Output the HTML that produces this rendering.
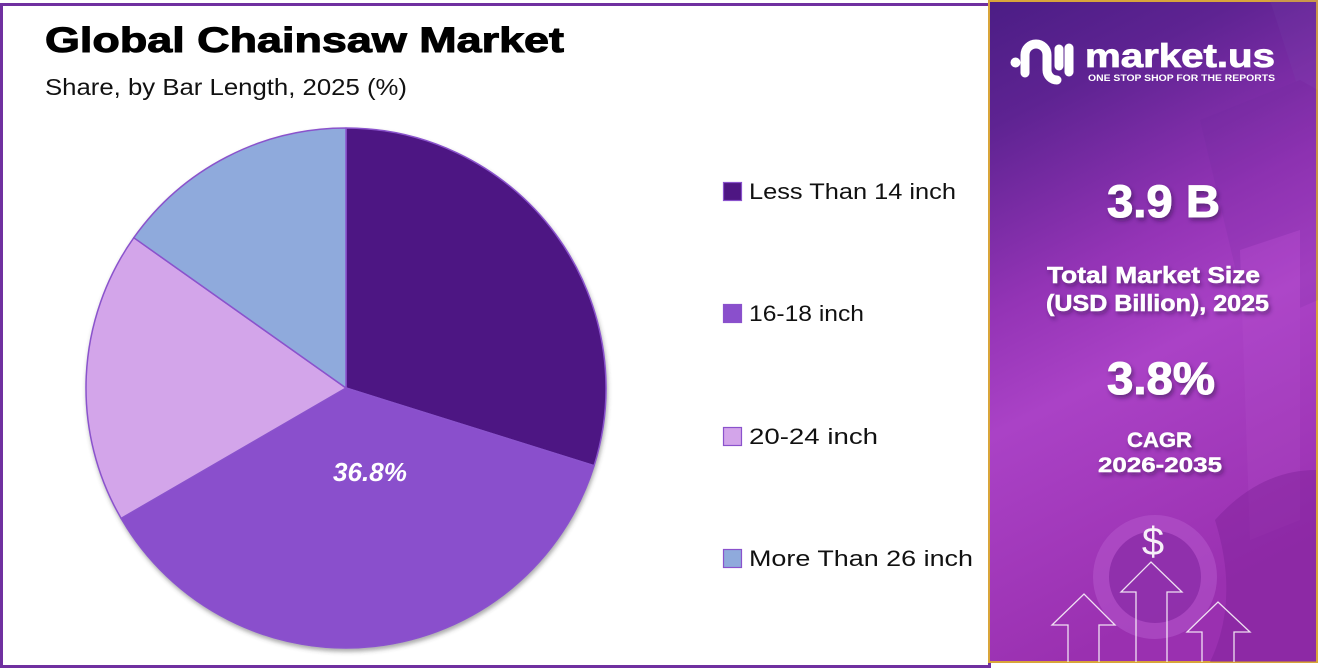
<!DOCTYPE html>
<html>
<head>
<meta charset="utf-8">
<style>
  html,body{margin:0;padding:0;background:#fff;}
  svg{display:block;}
  text{font-family:"Liberation Sans",sans-serif;}
</style>
</head>
<body>
<svg width="1318" height="668" viewBox="0 0 1318 668" xmlns="http://www.w3.org/2000/svg">
  <defs>
    <linearGradient id="bg" x1="0" y1="0" x2="0.25" y2="1">
      <stop offset="0" stop-color="#4b1d85"/>
      <stop offset="0.18" stop-color="#5e2392"/>
      <stop offset="0.45" stop-color="#9434b6"/>
      <stop offset="0.62" stop-color="#aa42c6"/>
      <stop offset="1" stop-color="#9a30b0"/>
    </linearGradient>
    <filter id="sh" x="-10%" y="-10%" width="120%" height="130%">
      <feDropShadow dx="1" dy="3" stdDeviation="2" flood-color="#444" flood-opacity="0.45"/>
    </filter>
    <filter id="tsh" x="-20%" y="-20%" width="140%" height="160%">
      <feDropShadow dx="2" dy="3" stdDeviation="2" flood-color="#2a0a40" flood-opacity="0.5"/>
    </filter>
  </defs>

  <!-- left panel -->
  <rect x="1.5" y="4.5" width="988" height="662" fill="#fff" stroke="#7030a0" stroke-width="3"/>

  <!-- title -->
  <text x="45" y="52" font-size="35" font-weight="bold" fill="#000" stroke="#000" stroke-width="1" textLength="519" lengthAdjust="spacingAndGlyphs">Global Chainsaw Market</text>
  <text x="45" y="95" font-size="23" fill="#111" textLength="362" lengthAdjust="spacingAndGlyphs">Share, by Bar Length, 2025 (%)</text>

  <!-- pie -->
  <g filter="url(#sh)" stroke="#8a52cc" stroke-width="1.5" stroke-linejoin="round">
    <path d="M346,388 L346,128 A260,260 0 0 1 594.1,465.7 Z" fill="#4e1683"/>
    <path d="M346,388 L594.1,465.7 A260,260 0 0 1 121.1,518.4 Z" fill="#8a4fcc"/>
    <path d="M346,388 L121.1,518.4 A260,260 0 0 1 133.8,237.7 Z" fill="#d3a5ea"/>
    <path d="M346,388 L133.8,237.7 A260,260 0 0 1 346,128 Z" fill="#8faadc"/>
  </g>
  <text x="370" y="481" text-anchor="middle" font-size="26" font-weight="bold" font-style="italic" fill="#fff" textLength="74" lengthAdjust="spacingAndGlyphs">36.8%</text>

  <!-- legend -->
  <g stroke="#8a52cc" stroke-width="1.2">
    <rect x="723.5" y="182.5" width="18" height="18" fill="#4e1683"/>
    <rect x="723.5" y="304.5" width="18" height="18" fill="#8a4fcc"/>
    <rect x="723.5" y="427.5" width="18" height="18" fill="#d3a5ea"/>
    <rect x="723.5" y="549.5" width="18" height="18" fill="#8faadc"/>
  </g>
  <g font-size="22" fill="#111">
    <text x="749" y="199" textLength="207" lengthAdjust="spacingAndGlyphs">Less Than 14 inch</text>
    <text x="749" y="321" textLength="115" lengthAdjust="spacingAndGlyphs">16-18 inch</text>
    <text x="749" y="444" textLength="129" lengthAdjust="spacingAndGlyphs">20-24 inch</text>
    <text x="749" y="566" textLength="224" lengthAdjust="spacingAndGlyphs">More Than 26 inch</text>
  </g>

  <!-- right panel -->
  <rect x="989" y="1" width="328" height="661" fill="url(#bg)" stroke="#d9a53a" stroke-width="2"/>
  <!-- subtle background shapes -->
  <g opacity="0.14">
    <path d="M1270,0 L1318,0 L1318,150 Z" fill="#7a4fb0"/>
    <path d="M1200,120 L1300,80 L1318,90 L1318,300 L1250,330 Z" fill="#6a2a9a"/>
    <path d="M1240,250 L1300,230 L1300,520 L1250,540 Z" fill="#c060d8"/>
  </g>
  <circle cx="1155" cy="577" r="62" fill="#b457cc" opacity="0.55"/>
  <circle cx="1155" cy="577" r="46" fill="#8a2aa6" opacity="0.8"/>
  <path d="M1215,520 Q1260,470 1316,470 L1316,662 L1210,662 Q1240,600 1215,520 Z" fill="#7e2298" opacity="0.45"/>

  <!-- logo -->
  <g fill="none" stroke="#fff" stroke-width="9" stroke-linecap="round">
    <path d="M1025,73 V55 a11,11 0 0 1 22,0 V70 a10,10 0 0 0 10,10"/>
    <path d="M1059,49 V66"/>
    <path d="M1069,48 V72"/>
  </g>
  <circle cx="1015.5" cy="62.5" r="5" fill="#fff"/>
  <text x="1085" y="67" font-size="33" font-weight="bold" fill="#fff" stroke="#fff" stroke-width="0.8" textLength="190" lengthAdjust="spacingAndGlyphs">market.us</text>
  <text x="1088" y="81" font-size="9" font-weight="bold" fill="#fff" textLength="187" lengthAdjust="spacingAndGlyphs">ONE STOP SHOP FOR THE REPORTS</text>

  <!-- stats -->
  <g fill="#fff" font-weight="bold" text-anchor="middle" filter="url(#tsh)">
    <text x="1163.5" y="217" font-size="45" stroke="#fff" stroke-width="1" textLength="113" lengthAdjust="spacingAndGlyphs">3.9 B</text>
    <text x="1153.5" y="283" font-size="23" stroke="#fff" stroke-width="0.5" textLength="213" lengthAdjust="spacingAndGlyphs">Total Market Size</text>
    <text x="1157.5" y="311" font-size="23" stroke="#fff" stroke-width="0.5" textLength="223" lengthAdjust="spacingAndGlyphs">(USD Billion), 2025</text>
    <text x="1161" y="394" font-size="45" stroke="#fff" stroke-width="1" textLength="108" lengthAdjust="spacingAndGlyphs">3.8%</text>
    <text x="1159.5" y="447" font-size="21" stroke="#fff" stroke-width="0.4" textLength="65" lengthAdjust="spacingAndGlyphs">CAGR</text>
    <text x="1160" y="472" font-size="21" stroke="#fff" stroke-width="0.4" textLength="124" lengthAdjust="spacingAndGlyphs">2026-2035</text>
  </g>

  <!-- dollar and arrows -->
  <text x="1153" y="555" text-anchor="middle" font-size="40" fill="#fff" opacity="0.92">$</text>
  <g fill="none" stroke="#fff" stroke-width="1.3" opacity="0.85" stroke-linejoin="miter">
    <path d="M1068,662 V625 H1052 L1084,594 L1115,625 H1099 V662"/>
    <path d="M1136,662 V592 H1121 L1151,562 L1182,592 H1167 V662"/>
    <path d="M1202,662 V632 H1187 L1218,602 L1250,632 H1234 V662"/>
  </g>
</svg>
</body>
</html>
